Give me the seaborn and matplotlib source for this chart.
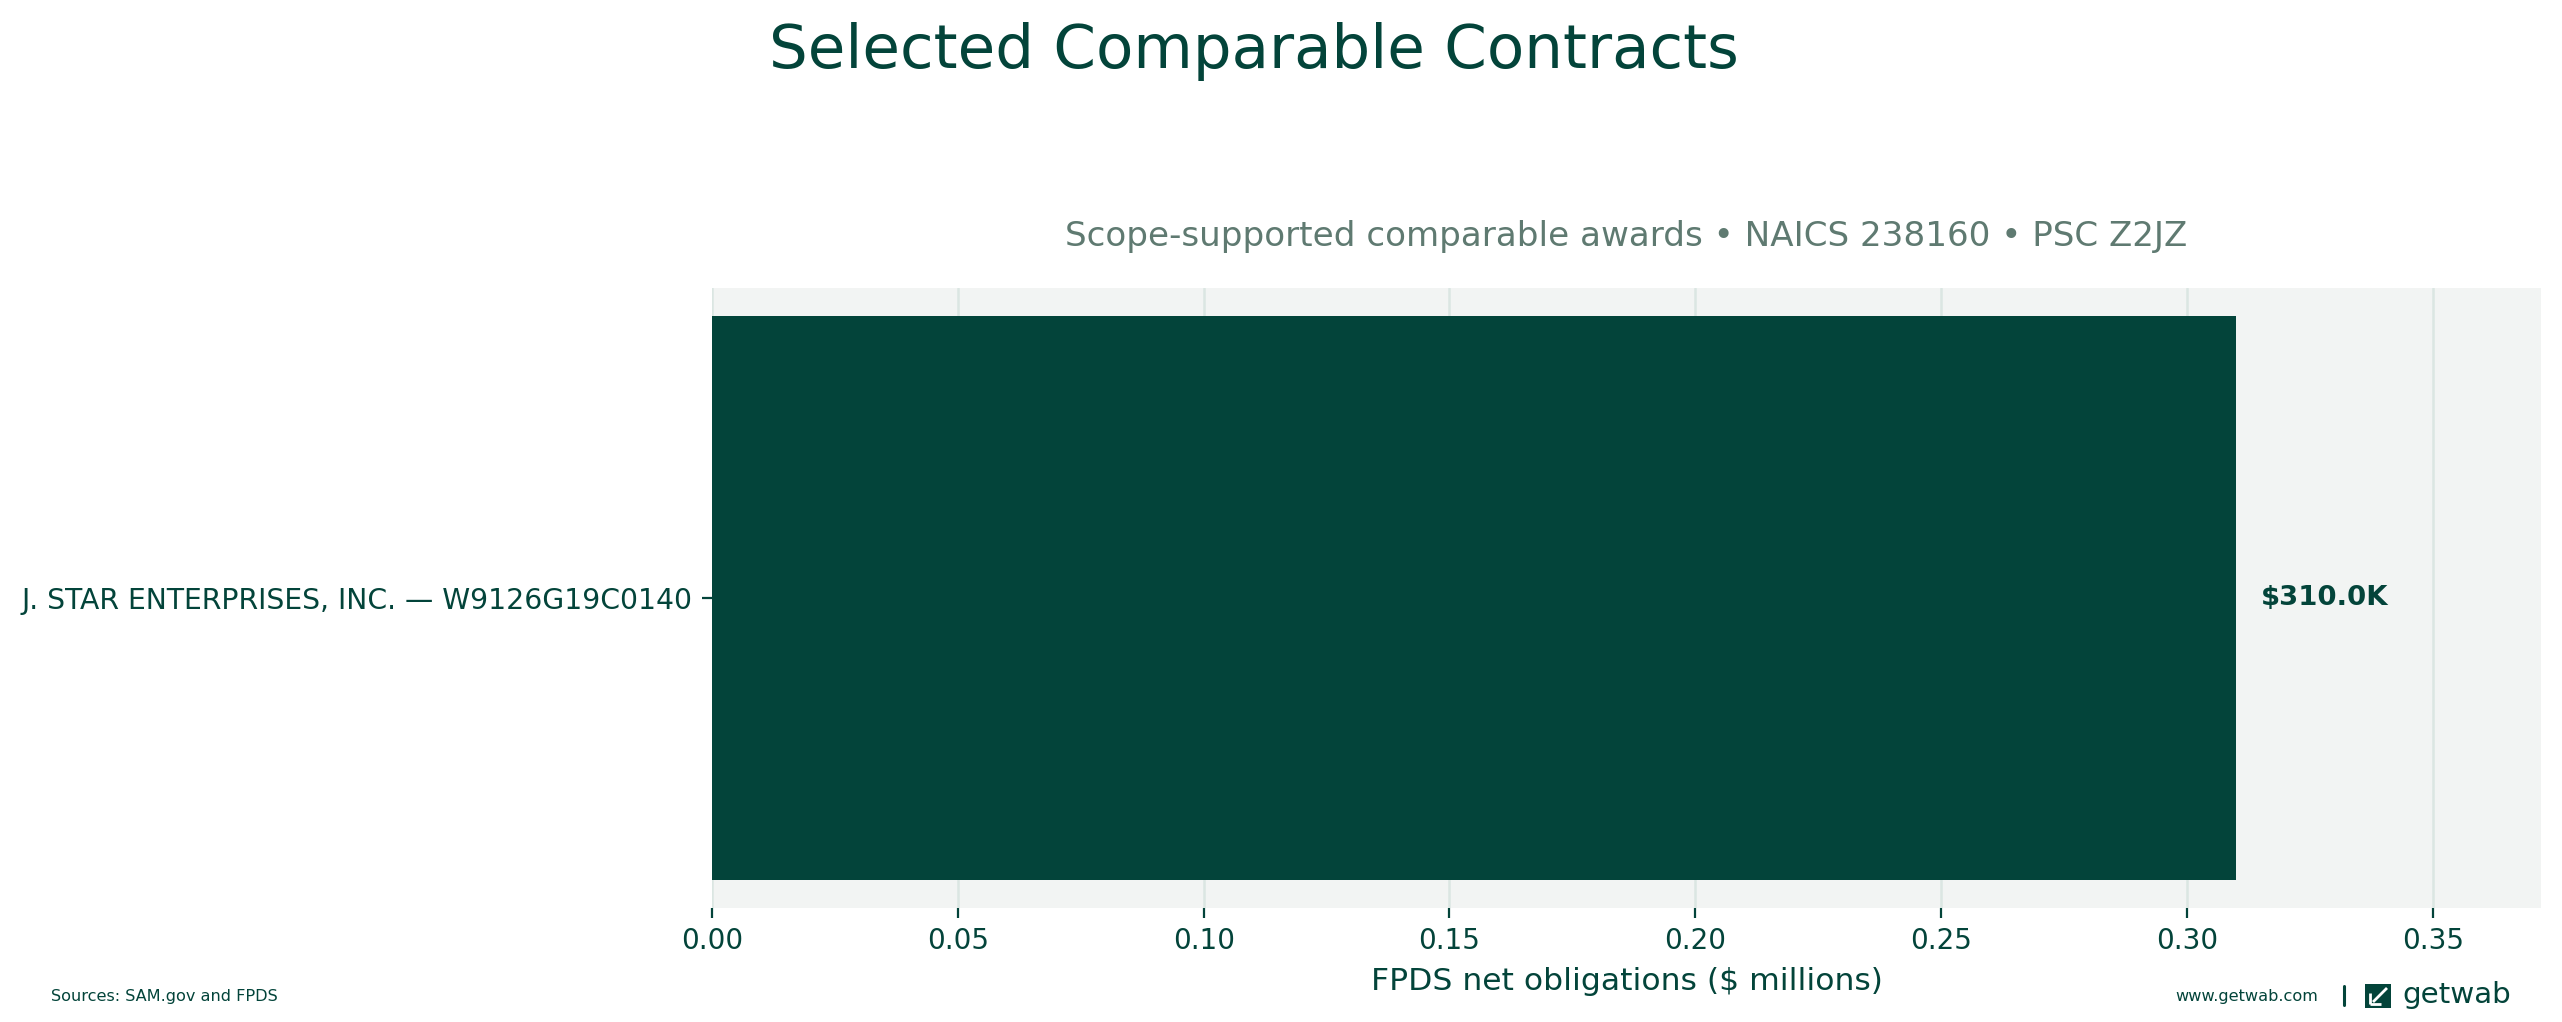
import pandas as pd
import matplotlib.pyplot as plt
import seaborn as sns
from matplotlib.patches import Rectangle
from matplotlib.lines import Line2D

# data
contracts = ["J. STAR ENTERPRISES, INC. — W9126G19C0140"]
obligations = [0.310]          # $ millions
value_labels = ["$310.0K"]
x_ticks = [0.00, 0.05, 0.10, 0.15, 0.20, 0.25, 0.30, 0.35]

title = "Selected Comparable Contracts"
subtitle = "Scope-supported comparable awards • NAICS 238160 • PSC Z2JZ"
x_label = "FPDS net obligations ($ millions)"
source_note = "Sources: SAM.gov and FPDS"
site = "www.getwab.com"
brand = "getwab"

# colours
DARK = "#03443a"
SUB = "#5f7a71"
PANEL = "#f2f4f3"
GRID = "#dbe6e2"

W, H = 2562, 1022


def px(x, y):
    # pixel position (from top-left) -> figure fraction
    return x / W, 1 - y / H


sns.set_theme(style="white")
plt.rcParams['font.family'] = ['DejaVu Sans']

df = pd.DataFrame({"contract": contracts, "obligation": obligations})

fig = plt.figure(figsize=(W / 200, H / 200), dpi=200)
fig.patch.set_facecolor("white")
x0, y0 = px(712, 908)
x1, y1 = px(2541, 288)
ax = fig.add_axes([x0, y0, x1 - x0, y1 - y0])
ax.set_facecolor(PANEL)

sns.barplot(data=df, x="obligation", y="contract", orient="h", color=DARK,
            saturation=1, width=0.8, linewidth=0, ax=ax)

ax.set_xlim(0, max(obligations) * 1.2)
ax.set_ylim(0.44, -0.44)
ax.set_xticks(x_ticks)
ax.set_xticklabels([f"{t:.2f}" for t in x_ticks])
ax.grid(axis="x", color=GRID, linewidth=0.9)
ax.grid(axis="y", visible=False)
ax.set_axisbelow(True)
for s in ax.spines.values():
    s.set_visible(False)
ax.tick_params(axis="both", colors=DARK, labelcolor=DARK, length=3.5, width=0.8,
               labelsize=10, bottom=True, left=True)
ax.tick_params(axis="y", labelsize=10.2)

for i, (v, lab) in enumerate(zip(obligations, value_labels)):
    ax.text(v + 0.005, i, lab, ha="left", va="center", fontsize=9.9,
            fontweight="bold", color=DARK)

ax.set_title(subtitle, fontsize=12.3, color=SUB, pad=15)
ax.set_xlabel(x_label, fontsize=11.3, color=DARK)
ax.set_ylabel("")

# headline
tx, ty = px(1254, 68)
fig.text(tx, ty, title, ha="center", va="baseline", fontsize=22, color=DARK)

# footer
sx, sy = px(51, 1001)
fig.text(sx, sy, source_note, ha="left", va="baseline", fontsize=5.8, color=DARK)
wx, wy = px(2318, 1001)
fig.text(wx, wy, site, ha="right", va="baseline", fontsize=5.8, color=DARK)

# separator
a = px(2344, 986)
b = px(2344, 1005)
fig.add_artist(Line2D([a[0], b[0]], [a[1], b[1]], color=DARK, linewidth=1.1,
                      transform=fig.transFigure))

# logo mark
lx, ly = px(2365, 1008)
rx, ry = px(2391, 984)
fig.add_artist(Rectangle((lx, ly), rx - lx, ry - ly, facecolor=DARK,
                         edgecolor="none", transform=fig.transFigure))
for (p, q) in [((2387, 988), (2373, 1002)), ((2370, 993), (2370, 1004)),
               ((2370, 1004), (2381, 1004))]:
    pa, pb = px(*p), px(*q)
    fig.add_artist(Line2D([pa[0], pb[0]], [pa[1], pb[1]], color="white",
                          linewidth=1.0, solid_capstyle="butt",
                          transform=fig.transFigure))

gx, gy = px(2402, 1003)
fig.text(gx, gy, brand, ha="left", va="baseline", fontsize=10.6,
         color=DARK, path_effects=[])

fig.savefig("out.png", dpi=200)
